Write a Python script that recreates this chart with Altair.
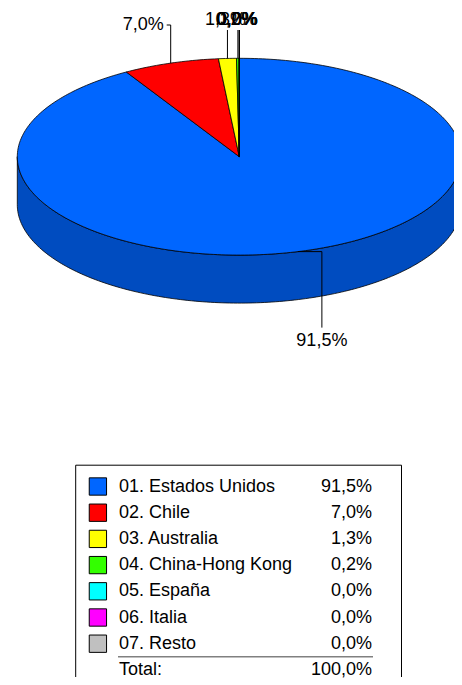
import math
import altair as alt
import pandas as pd

# ---------------- data ----------------
categories = ["01. Estados Unidos", "02. Chile", "03. Australia", "04. China-Hong Kong",
              "05. España", "06. Italia", "07. Resto"]
shares = [91.5, 7.0, 1.3, 0.2, 0.0, 0.0, 0.0]
share_labels = ["91,5%", "7,0%", "1,3%", "0,2%", "0,0%", "0,0%", "0,0%"]
total_text = "Total:"
total_label = "100,0%"

# ---------------- styles ----------------
top_colors = ["#0066FF", "#FF0000", "#FFFF00", "#33FF00", "#00FFFF", "#FF00FF", "#C0C0C0"]
side_colors = ["#004CC0", "#BF0000", "#BFBF00", "#26BF00", "#00BFBF", "#BF00BF", "#909090"]
FONT = "Liberation Sans"
FS = 18

# ---------------- layout (page pixels) ----------------
CX, CY, RX, RY, DEPTH = 239.3, 156.7, 222.0, 98.4, 48.0
TOP_W, TOP_H = 446, 440
LEG_H = 229
ROW0, ROW_STEP = 38.5, 26.2   # first legend row centre (local px) and row spacing


def ell(a, dy=0.0):
    return CX + RX * math.sin(a), CY - RY * math.cos(a) + dy


total = sum(shares)
bounds = [0.0]
for s in shares:
    bounds.append(bounds[-1] + s / total * 2 * math.pi)

top_rows, side_rows, lead_rows, lab_rows = [], [], [], []
for i, cat in enumerate(categories):
    a0, a1 = bounds[i], bounds[i + 1]
    n = max(2, int(math.degrees(a1 - a0)) + 2)
    pts = [(CX, CY)] + [ell(a0 + (a1 - a0) * k / (n - 1)) for k in range(n)] + [(CX, CY)]
    for k, (x, y) in enumerate(pts):
        top_rows.append(dict(slice=i, k=k, x=x, y=y, fill=top_colors[i]))
    s, e = max(a0, math.pi / 2), min(a1, 3 * math.pi / 2)
    if e > s:
        m = max(2, int(math.degrees(e - s)) + 2)
        arc = [s + (e - s) * k / (m - 1) for k in range(m)]
        sp = [ell(a) for a in arc] + [ell(a, DEPTH) for a in reversed(arc)]
        sp.append(sp[0])
        for k, (x, y) in enumerate(sp):
            side_rows.append(dict(slice=i, k=k, x=x, y=y, fill=side_colors[i]))
    mid = (a0 + a1) / 2
    ax, ay = ell(mid)
    if math.pi / 2 < mid < 3 * math.pi / 2:
        path = [(ax, ay), (ax + 24, ay), (ax + 24, ay + 76)]
        lab = dict(x=ax + 24, y=ay + 89, align="center")
    elif shares[i] >= 5:
        path = [(ax, ay), (ax, 25), (ax - 4, 25)]
        lab = dict(x=ax - 7, y=25, align="right")
    else:
        path = [(ax, ay), (ax, 30)]
        lab = dict(x=ax - 2, y=19.5, align="center")
    for k, (x, y) in enumerate(path):
        lead_rows.append(dict(slice=i, k=k, x=x, y=y))
    lab.update(slice=i, label=share_labels[i])
    lab_rows.append(lab)

top_df = pd.DataFrame(top_rows)
side_df = pd.DataFrame(side_rows)
lead_df = pd.DataFrame(lead_rows)
lab_df = pd.DataFrame(lab_rows)

X = alt.X("x:Q", scale=alt.Scale(domain=[8, 8 + TOP_W], nice=False, zero=False), axis=None)
Y = alt.Y("y:Q", scale=alt.Scale(domain=[8, 8 + TOP_H], nice=False, zero=False, reverse=True), axis=None)

sides = alt.Chart(side_df).mark_line(
    filled=True, stroke="black", strokeWidth=0.8, strokeJoin="round", clip=True
).encode(x=X, y=Y, order="k:Q", detail="slice:N", color=alt.Color("fill:N", scale=None))

tops = alt.Chart(top_df).mark_line(
    filled=True, stroke="black", strokeWidth=0.8, strokeJoin="round", clip=True
).encode(x=X, y=Y, order="k:Q", detail="slice:N", color=alt.Color("fill:N", scale=None))

leaders = alt.Chart(lead_df).mark_line(color="black", strokeWidth=1, clip=True).encode(
    x=X, y=Y, order="k:Q", detail="slice:N"
)

lab_center = alt.Chart(lab_df).transform_filter(alt.datum.align == "center").mark_text(
    font=FONT, fontSize=FS, align="center", baseline="middle", color="black"
).encode(x=X, y=Y, text="label:N")

lab_right = alt.Chart(lab_df).transform_filter(alt.datum.align == "right").mark_text(
    font=FONT, fontSize=FS, align="right", baseline="middle", color="black"
).encode(x=X, y=Y, text="label:N")

top = alt.layer(sides, tops, leaders, lab_center, lab_right).properties(width=TOP_W, height=TOP_H)

# ---------------- legend table ----------------
leg_df = pd.DataFrame({"row": list(range(len(categories))), "cat": categories, "label": share_labels})
tot_df = pd.DataFrame({"row": [len(categories)], "cat": [total_text], "label": [total_label]})

LY = alt.Y("row:Q",
           scale=alt.Scale(domain=[-ROW0 / ROW_STEP, (LEG_H - ROW0) / ROW_STEP],
                           reverse=True, nice=False, zero=False),
           axis=None)

box = alt.Chart(tot_df).mark_rect(filled=False, stroke="black", strokeWidth=1, clip=True).encode(
    x=alt.value(67.7), x2=alt.value(393.5), y=alt.value(ROW0 - 21.3), y2=alt.value(LEG_H + 30)
)

swatches = alt.Chart(leg_df).mark_square(
    size=300, filled=True, stroke="black", strokeWidth=1, opacity=1
).encode(
    x=alt.value(89.9), y=LY,
    color=alt.Color("cat:N", scale=alt.Scale(domain=categories, range=top_colors), legend=None),
)

names = alt.Chart(leg_df).mark_text(font=FONT, fontSize=FS, align="left", baseline="middle",
                                    color="black").encode(x=alt.value(111), y=LY, text="cat:N")
vals = alt.Chart(leg_df).mark_text(font=FONT, fontSize=FS, align="right", baseline="middle",
                                   color="black").encode(x=alt.value(364), y=LY, text="label:N")

sep = alt.Chart(tot_df).transform_calculate(row="datum.row - 0.5").mark_rule(
    color="#808080", strokeWidth=1.5
).encode(x=alt.value(110), x2=alt.value(365), y=LY)

tot_name = alt.Chart(tot_df).mark_text(font=FONT, fontSize=FS, align="left", baseline="middle",
                                       color="black").encode(x=alt.value(111), y=LY, text="cat:N")
tot_val = alt.Chart(tot_df).mark_text(font=FONT, fontSize=FS, align="right", baseline="middle",
                                      color="black").encode(x=alt.value(364), y=LY, text="label:N")

legend = alt.layer(box, swatches, names, vals, sep, tot_name, tot_val).properties(width=TOP_W, height=LEG_H)

chart = alt.vconcat(top, legend, spacing=0).properties(padding=0, background="white").configure_view(
    strokeWidth=0
)

chart.save("out.html", embed_options={"renderer": "svg", "actions": False})
